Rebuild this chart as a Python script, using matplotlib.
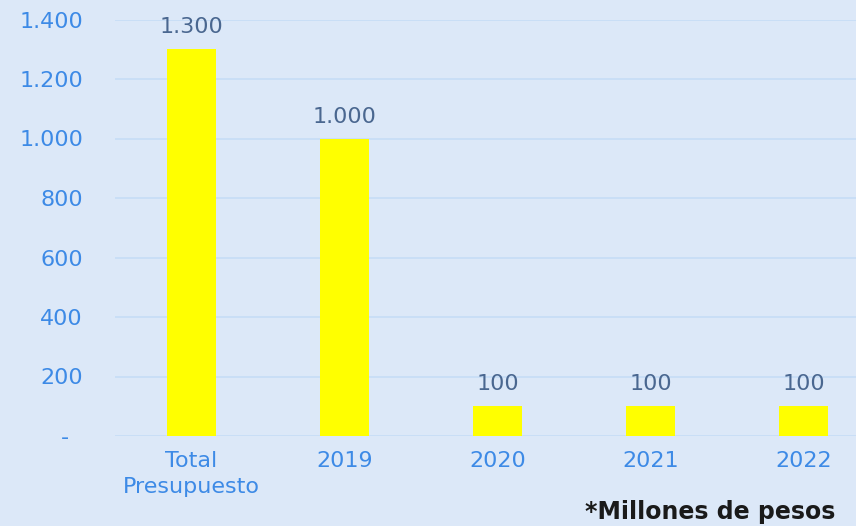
import matplotlib.pyplot as plt
from matplotlib.ticker import FuncFormatter

plt.rcParams['font.family'] = ['DejaVu Sans']

# data
categorias = ['Total\nPresupuesto', '2019', '2020', '2021', '2022']
valores = [1300, 1000, 100, 100, 100]
y_ticks = [0, 200, 400, 600, 800, 1000, 1200, 1400]

bg = '#dce8f8'
azul = '#3d8ae6'
grid_c = '#c6dcf6'


def miles(v, pos=None):
    # formato con punto de miles, cero como guion
    if v == 0:
        return '-  '
    return f'{int(v):,}'.replace(',', '.')


fig = plt.figure(figsize=(8.56, 5.26), dpi=100, facecolor=bg)
ax = fig.add_axes([115/856, 90/526, 741/856, 416.5/526], facecolor=bg)

x = range(len(categorias))
bars = ax.bar(x, valores, width=0.32, color='#ffff00', zorder=3)

for b, v in zip(bars, valores):
    ax.annotate(miles(v), (b.get_x() + b.get_width()/2, v),
                xytext=(0, 8.5), textcoords='offset points', ha='center', va='bottom',
                fontsize=16, color='#4a6790')

ax.set_xlim(-0.5, 4.34)
ax.set_ylim(0, 1400)
ax.set_yticks(y_ticks)
ax.yaxis.set_major_formatter(FuncFormatter(miles))
ax.set_xticks(list(x))
ax.set_xticklabels(categorias, linespacing=1.33)
ax.tick_params(axis='both', length=0, labelsize=16, labelcolor=azul)
ax.tick_params(axis='y', pad=23)
ax.tick_params(axis='x', pad=11)

ax.grid(axis='y', color=grid_c, lw=1.2, zorder=0)
for s in ax.spines.values():
    s.set_visible(False)

fig.text(835/856, 1 - 512/526, '*Millones de pesos', ha='right', va='center',
         fontsize=17, fontweight='bold', color='#1a1a1a')

fig.savefig('out.png', dpi=100, facecolor=bg)
